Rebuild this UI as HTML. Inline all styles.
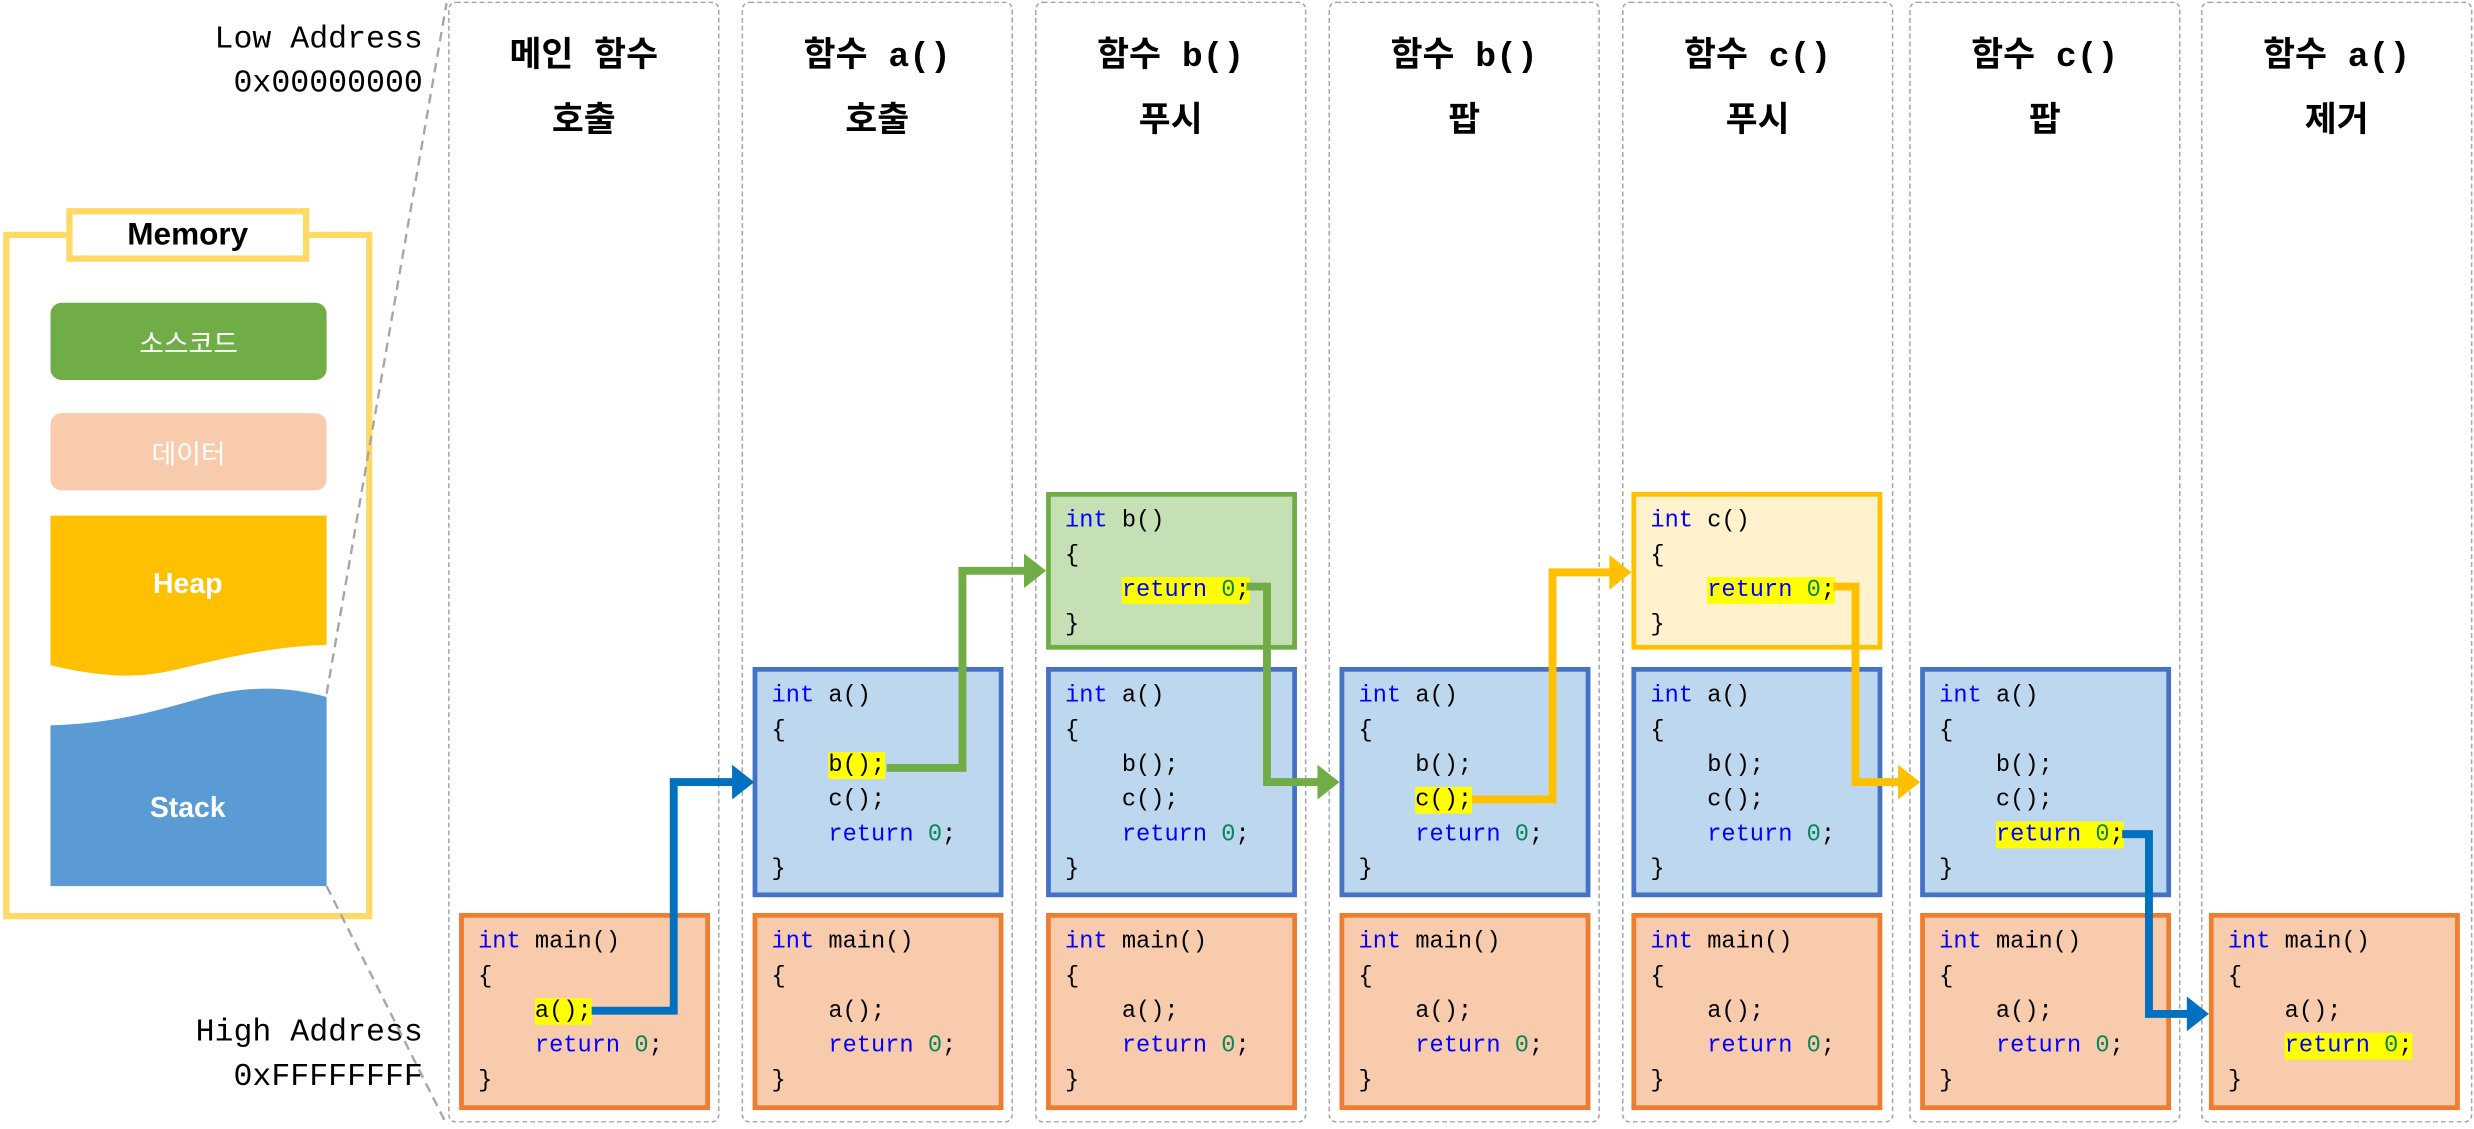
<!DOCTYPE html>
<html><head><meta charset="utf-8">
<style>
html,body{margin:0;padding:0;background:#fff;width:2474px;height:1129px;overflow:hidden}
#s{position:absolute;left:0;top:0;width:1568px;height:716px;transform:scale(1.5778,1.5768);transform-origin:0 0}
.col{position:absolute;top:1px;width:172px;height:711px;border:1.5px dashed #a6a6a6;border-radius:5px;box-sizing:border-box}
.t{position:absolute;width:174px;text-align:center;font:bold 22px/26px "Liberation Mono","Noto Sans CJK KR",sans-serif;color:#000}
.box{position:absolute;box-sizing:border-box;border:3px solid;font:15px/22px "Liberation Mono",monospace;padding:5px 0 0 9px;white-space:pre;color:#000;width:159px}
.m{border-color:#ED7D31;background:#F8CBAD;top:579px;height:125px}
.a{border-color:#4472C4;background:#BDD7EE;top:423px;height:146px}
.b{border-color:#70AD47;background:#C5E0B4;top:312px;height:100px}
.c{border-color:#FFC000;background:#FFF2CC;top:312px;height:100px}
.k{color:#0000FF}.n{color:#098658}.h{background:#FFFF00}
.addr{position:absolute;right:1300px;font:20px/28px "Liberation Mono",monospace;text-align:right;color:#000}
.mem{position:absolute;left:32px;width:175px;height:49px;border-radius:7px;text-align:center;font:17px/49px "Noto Sans CJK KR",sans-serif;color:#fff}
</style></head><body>
<div id="s">
<!-- columns -->
<div class="col" style="left:284px"></div>
<div class="col" style="left:470px"></div>
<div class="col" style="left:656px"></div>
<div class="col" style="left:842px"></div>
<div class="col" style="left:1028px"></div>
<div class="col" style="left:1210px"></div>
<div class="col" style="left:1395px"></div>

<div class="t" style="left:283px;top:24px">메인 함수</div><div class="t" style="left:283px;top:65px">호출</div>
<div class="t" style="left:469px;top:24px">함수 a()</div><div class="t" style="left:469px;top:65px">호출</div>
<div class="t" style="left:655px;top:24px">함수 b()</div><div class="t" style="left:655px;top:65px">푸시</div>
<div class="t" style="left:841px;top:24px">함수 b()</div><div class="t" style="left:841px;top:65px">팝</div>
<div class="t" style="left:1027px;top:24px">함수 c()</div><div class="t" style="left:1027px;top:65px">푸시</div>
<div class="t" style="left:1209px;top:24px">함수 c()</div><div class="t" style="left:1209px;top:65px">팝</div>
<div class="t" style="left:1394px;top:24px">함수 a()</div><div class="t" style="left:1394px;top:65px">제거</div>

<div class="addr" style="top:12px">Low Address<br>0x00000000</div>
<div class="addr" style="top:642px">High Address<br>0xFFFFFFFF</div>

<!-- memory -->
<div style="position:absolute;left:2px;top:147px;width:234px;height:436px;border:4px solid #FFD966;box-sizing:border-box"></div>
<div style="position:absolute;left:42px;top:132px;width:154px;height:34px;border:4px solid #FFD966;background:#fff;box-sizing:border-box;text-align:center;font:bold 20px/26px 'Liberation Sans',sans-serif">Memory</div>
<div class="mem" style="top:192px;background:#70AD47">소스코드</div>
<div class="mem" style="top:262px;background:#F8CBAD">데이터</div>

<svg width="1568" height="716" style="position:absolute;left:0;top:0">
<path d="M32 327 H207 V409 C170 410 140 418 110 425 C80 432 55 427 32 422 Z" fill="#FFC000"/>
<path d="M32 460 C70 459 95 452 130 442 C160 434 185 436 207 442 V562 H32 Z" fill="#5B9BD5"/>
<text x="119" y="376" text-anchor="middle" fill="#fff" font-family="Liberation Sans" font-weight="bold" font-size="18">Heap</text>
<text x="119" y="518" text-anchor="middle" fill="#fff" font-family="Liberation Sans" font-weight="bold" font-size="18">Stack</text>
<line x1="207" y1="440" x2="283" y2="2" stroke="#a6a6a6" stroke-width="1.5" stroke-dasharray="6,4"/>
<line x1="207" y1="562" x2="283" y2="713" stroke="#a6a6a6" stroke-width="1.5" stroke-dasharray="6,4"/>
</svg>

<!-- col1 -->
<div class="box m" style="left:291px"><span class="k">int</span> main()
{
    <span class="h">a();</span>
    <span class="k">return</span> <span class="n">0</span>;
}</div>
<!-- col2 -->
<div class="box a" style="left:477px"><span class="k">int</span> a()
{
    <span class="h">b();</span>
    c();
    <span class="k">return</span> <span class="n">0</span>;
}</div>
<div class="box m" style="left:477px"><span class="k">int</span> main()
{
    a();
    <span class="k">return</span> <span class="n">0</span>;
}</div>
<!-- col3 -->
<div class="box b" style="left:663px"><span class="k">int</span> b()
{
    <span class="h"><span class="k">return</span> <span class="n">0</span>;</span>
}</div>
<div class="box a" style="left:663px"><span class="k">int</span> a()
{
    b();
    c();
    <span class="k">return</span> <span class="n">0</span>;
}</div>
<div class="box m" style="left:663px"><span class="k">int</span> main()
{
    a();
    <span class="k">return</span> <span class="n">0</span>;
}</div>
<!-- col4 -->
<div class="box a" style="left:849px"><span class="k">int</span> a()
{
    b();
    <span class="h">c();</span>
    <span class="k">return</span> <span class="n">0</span>;
}</div>
<div class="box m" style="left:849px"><span class="k">int</span> main()
{
    a();
    <span class="k">return</span> <span class="n">0</span>;
}</div>
<!-- col5 -->
<div class="box c" style="left:1034px"><span class="k">int</span> c()
{
    <span class="h"><span class="k">return</span> <span class="n">0</span>;</span>
}</div>
<div class="box a" style="left:1034px"><span class="k">int</span> a()
{
    b();
    c();
    <span class="k">return</span> <span class="n">0</span>;
}</div>
<div class="box m" style="left:1034px"><span class="k">int</span> main()
{
    a();
    <span class="k">return</span> <span class="n">0</span>;
}</div>
<!-- col6 -->
<div class="box a" style="left:1217px"><span class="k">int</span> a()
{
    b();
    c();
    <span class="h"><span class="k">return</span> <span class="n">0</span>;</span>
}</div>
<div class="box m" style="left:1217px"><span class="k">int</span> main()
{
    a();
    <span class="k">return</span> <span class="n">0</span>;
}</div>
<!-- col7 -->
<div class="box m" style="left:1400px"><span class="k">int</span> main()
{
    a();
    <span class="h"><span class="k">return</span> <span class="n">0</span>;</span>
}</div>

<svg width="1568" height="716" style="position:absolute;left:0;top:0">
<g fill="none" stroke-width="5" stroke-linejoin="miter">
<path d="M375 641 H427 V496 H466" stroke="#0070C0"/>
<path d="M562 487 H610 V362 H651" stroke="#70AD47"/>
<path d="M790 372 H803 V496 H837" stroke="#70AD47"/>
<path d="M933 507 H984 V363 H1022" stroke="#FFC000"/>
<path d="M1162 372 H1176 V496 H1205" stroke="#FFC000"/>
<path d="M1345 529 H1362 V643 H1388" stroke="#0070C0"/>
</g>
<polygon points="464,485 478,496 464,507" fill="#0070C0"/>
<polygon points="649,351 663,362 649,373" fill="#70AD47"/>
<polygon points="835,485 849,496 835,507" fill="#70AD47"/>
<polygon points="1020,352 1034,363 1020,374" fill="#FFC000"/>
<polygon points="1203,485 1217,496 1203,507" fill="#FFC000"/>
<polygon points="1386,632 1400,643 1386,654" fill="#0070C0"/>
</svg>
</div>
</body></html>
